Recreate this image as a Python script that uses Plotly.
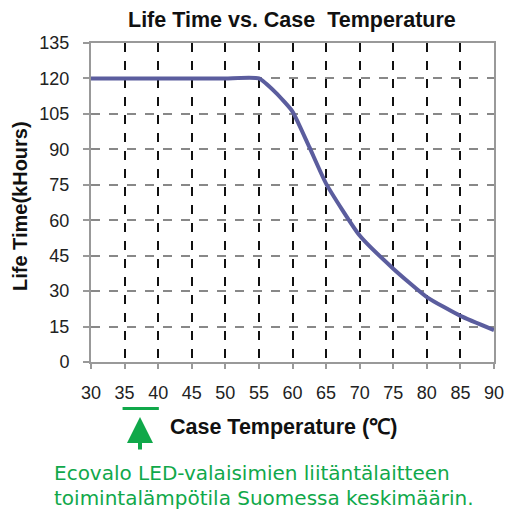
import plotly.graph_objects as go

temps = [30, 35, 40, 45, 50, 55, 57.5, 60, 62.5, 65, 70, 75, 80, 85, 90]
life_khours = [120, 120, 120, 120, 120, 120, 114, 106, 91, 75.5, 53.5, 39.5, 27.5, 19.5, 13.5]
x_ticks = list(range(30, 95, 5))
y_ticks = list(range(0, 150, 15))
highlight_range = [35, 40]

title_text = "Life Time vs. Case  Temperature"
x_title = "Case Temperature (\u2103)"
y_title = "Life Time(kHours)"
note_lines = ["Ecovalo LED-valaisimien liitäntälaitteen",
              "toimintalämpötila Suomessa keskimäärin."]

GREEN = "#10a84a"

fig = go.Figure()
fig.add_trace(go.Scatter(
    x=temps, y=life_khours, mode="lines",
    line=dict(color="#5b5d9e", width=4, shape="spline", smoothing=0.5),
    hoverinfo="skip", showlegend=False,
))

fig.update_layout(
    width=508, height=509,
    margin=dict(l=91, r=14, t=43, b=147, autoexpand=False),
    paper_bgcolor="white", plot_bgcolor="white",
    font=dict(family="Liberation Sans, Arial, sans-serif", color="#111111"),
    showlegend=False,
)
fig.update_xaxes(
    range=[30, 90], tickvals=x_ticks, ticktext=[str(v) for v in x_ticks],
    tickfont=dict(size=18, color="#222222"), ticklabelstandoff=8, automargin=False,
    showgrid=True, gridcolor="#111111", gridwidth=1.5, griddash="dash",
    showline=True, linecolor="#999999", linewidth=2, mirror=True,
    ticks="outside", ticklen=5, tickcolor="#999999", tickwidth=1.5,
    zeroline=False,
)
fig.update_yaxes(
    range=[0, 135], tickvals=y_ticks, ticktext=[str(v) for v in y_ticks],
    tickfont=dict(size=18, color="#222222"), ticklabelstandoff=10, automargin=False,
    showgrid=True, gridcolor="#888888", gridwidth=2, griddash="dash",
    showline=True, linecolor="#999999", linewidth=2, mirror=True,
    ticks="outside", ticklen=6, tickcolor="#999999", tickwidth=1.5,
    zeroline=False,
)

pw, ph = 508 - 91 - 14, 509 - 43 - 147
def px(xp):
    return (xp - 91) / pw
def py(yp):
    return (509 - 147 - yp) / ph

ann = []
ann.append(dict(text="<b>" + title_text + "</b>", x=px(292), y=py(20), xref="paper", yref="paper",
                xanchor="center", yanchor="middle", showarrow=False,
                font=dict(size=21.5, color="#111111")))
ann.append(dict(text="<b>" + x_title + "</b>", x=px(283), y=py(427), xref="paper", yref="paper",
                xanchor="center", yanchor="middle",
                showarrow=False, font=dict(size=21.5, color="#111111")))
ann.append(dict(text="<b>" + y_title + "</b>", x=px(20), y=py(206), xref="paper", yref="paper",
                xanchor="center", yanchor="middle", textangle=-90, showarrow=False,
                font=dict(size=20, color="#111111")))
for i, line in enumerate(note_lines):
    ann.append(dict(text=line, x=px(52), y=py(473 + 25 * i), xref="paper", yref="paper",
                    xanchor="left", yanchor="middle", showarrow=False,
                    font=dict(family="DejaVu Sans, Verdana, sans-serif", size=20, color=GREEN)))
# arrow
ann.append(dict(text="", x=px(140), y=py(417), xref="paper", yref="paper",
                ax=0, ay=34, showarrow=True, arrowhead=2, arrowsize=1.3,
                arrowwidth=4, arrowcolor=GREEN))
fig.update_layout(annotations=ann)

fig.add_shape(type="line", xref="x", yref="paper",
              x0=highlight_range[0] - 0.3, x1=highlight_range[1] + 0.1,
              y0=py(408.5), y1=py(408.5), line=dict(color=GREEN, width=3))

fig.write_html(
    "out.html",
    config={"displayModeBar": False},
    post_script="document.body.style.margin='0';document.body.style.overflow='hidden';"
                "document.documentElement.style.overflow='hidden';",
)
